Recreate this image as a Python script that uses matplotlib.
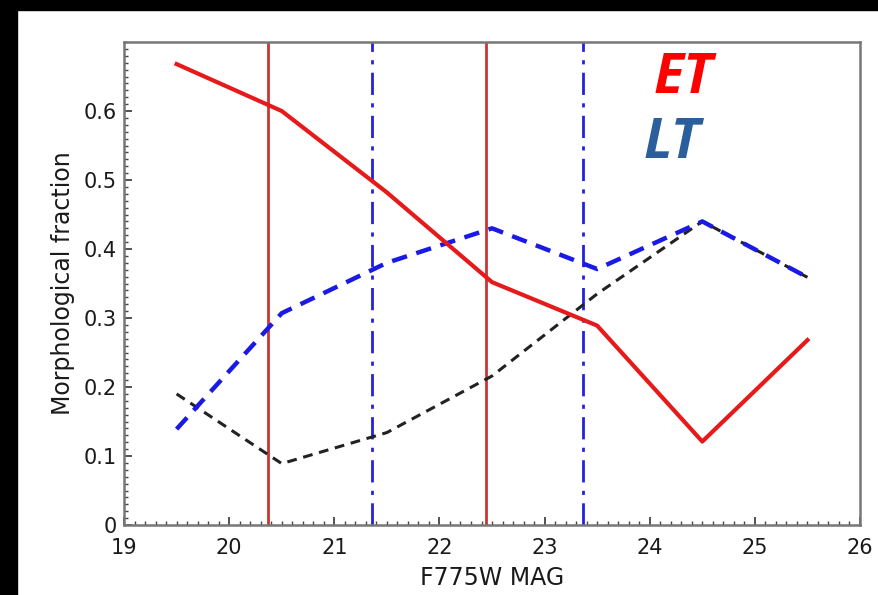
import matplotlib
matplotlib.use("Agg")
import matplotlib.pyplot as plt
from matplotlib.patches import Rectangle
from matplotlib.ticker import MultipleLocator

# Magnitude bins (F775W)
mag = [19.5, 20.5, 21.5, 22.5, 23.5, 24.5, 25.5]
# Morphological fractions per bin
early_type = [0.668, 0.600, 0.482, 0.352, 0.289, 0.121, 0.268]
late_type = [0.139, 0.307, 0.380, 0.430, 0.371, 0.440, 0.359]
other = [0.190, 0.089, 0.134, 0.216, 0.335, 0.440, 0.359]
# Reference magnitudes
red_marks = [20.37, 22.44]
blue_marks = [21.36, 23.37]
# Tick labels
y_ticks = [0, 0.1, 0.2, 0.3, 0.4, 0.5, 0.6]
y_labels = ["0", "0.1", "0.2", "0.3", "0.4", "0.5", "0.6"]

fig = plt.figure(figsize=(8.79, 5.95), dpi=100)
fig.patch.set_facecolor("white")
ax = fig.add_axes([0.1411, 0.1176, 0.8373, 0.8118])

ax.plot(mag, other, color="#222222", lw=2.2, ls=(0, (3.2, 2.2)), zorder=3)
ax.plot(mag, late_type, color="#1a1ae6", lw=3.2, ls=(0, (3.5, 2.2)), zorder=4)
ax.plot(mag, early_type, color="#e61a1a", lw=3.0, zorder=5)
for m in red_marks:
    ax.axvline(m, color="#cc3333", lw=2.0, zorder=2)
for m in blue_marks:
    ax.axvline(m, color="#2222dd", lw=2.0, ls=(0, (8, 3, 1.5, 3)), zorder=2)

ax.set_xlim(19, 26)
ax.set_ylim(0, 0.7)
ax.xaxis.set_major_locator(MultipleLocator(1))
ax.xaxis.set_minor_locator(MultipleLocator(0.1))
ax.yaxis.set_minor_locator(MultipleLocator(0.01))
ax.set_yticks(y_ticks)
ax.set_yticklabels(y_labels)
ax.tick_params(which="major", direction="in", length=6, width=1.3, color="#444444",
               labelsize=15, labelcolor="#1a1a1a", top=False, right=False)
ax.tick_params(axis="x", which="major", pad=9)
ax.tick_params(axis="y", which="major", pad=5)
ax.tick_params(which="minor", direction="in", length=3, width=1.0, color="#444444",
               top=False, right=False)
for s in ax.spines.values():
    s.set_color("#777777")
    s.set_linewidth(1.8)

ax.set_xlabel("F775W MAG", fontsize=17, labelpad=6, color="#1a1a1a")
ax.set_ylabel("Morphological fraction", fontsize=17, labelpad=6, color="#1a1a1a")

ax.text(0.7595, 0.924, "ET", transform=ax.transAxes, color="#ff0000", fontsize=40,
        fontweight="bold", fontstyle="italic", family="Open Sans", ha="center", va="center")
ax.text(0.745, 0.789, "LT", transform=ax.transAxes, color="#2b5f9b", fontsize=40,
        fontweight="bold", fontstyle="italic", family="Open Sans", ha="center", va="center")

# Black frame bands at the top and left edge
fig.patches.append(Rectangle((0, 1 - 10 / 595), 1, 10 / 595, transform=fig.transFigure,
                             color="black", zorder=10))
fig.patches.append(Rectangle((0, 0), 17 / 879, 1, transform=fig.transFigure,
                             color="black", zorder=10))

fig.savefig("out.png", dpi=100)
